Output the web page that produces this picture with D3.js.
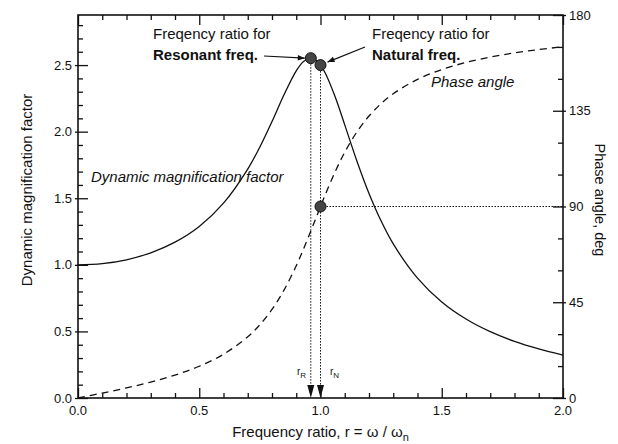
<!DOCTYPE html>
<html><head><meta charset="utf-8">
<script src="https://cdn.jsdelivr.net/npm/d3@7"></script>
<style>body{margin:0;background:#fff}text{font-family:"Liberation Sans",Arial,sans-serif;fill:#111}</style>
</head><body><svg id="c" width="618" height="444"></svg>
<script>
// Frequency ratio r
const ratio = [0,0.1,0.2,0.3,0.4,0.5,0.6,0.7,0.75,0.8,0.85,0.9,0.93,0.96,0.98,1.0,1.02,1.06,1.1,1.15,1.2,1.25,1.3,1.4,1.5,1.6,1.7,1.8,1.9,2.0];
// Dynamic magnification factor
const dmf = [1.0,1.009,1.038,1.090,1.170,1.288,1.463,1.719,1.885,2.076,2.279,2.457,2.527,2.552,2.538,2.5,2.439,2.264,2.051,1.780,1.536,1.329,1.157,0.900,0.721,0.593,0.498,0.425,0.368,0.322];
// Phase angle, deg
const phase = [0,2.31,4.76,7.51,10.78,14.93,20.56,28.77,34.44,41.63,50.79,62.18,70.04,78.46,84.23,90,95.65,106.25,115.52,125.03,132.51,138.37,143.0,149.74,154.36,157.69,160.21,162.18,163.77,165.07];
const xTicks = [0,0.5,1.0,1.5,2.0];
const yTicks = [0,0.5,1.0,1.5,2.0,2.5];
const pTicks = [0,45,90,135,180];
// Marked points: resonant, natural
const resonant = {r:0.96, dmf:2.552};
const natural = {r:1.0, dmf:2.5, phase:90};

const svg = d3.select("#c");
const L=78,R=563,T=15,B=398;
const x = d3.scaleLinear().domain([0,2]).range([L,R]);
const y = d3.scaleLinear().domain([0,2.876]).range([B,T]);
const yp = d3.scaleLinear().domain([0,180]).range([B,T]);
const TF = 13;

function fmt(v){return v.toFixed(1);}
// bottom axis
const gb = svg.append("g").attr("transform",`translate(0,${B})`);
gb.call(d3.axisBottom(x).tickValues(d3.range(0,2.001,0.1)).tickSize(-5).tickFormat(""));
gb.call(g=>g.selectAll(".tick line").filter(d=>xTicks.some(t=>Math.abs(t-d)<1e-6)).attr("y2",-10));
gb.selectAll("path").remove();
xTicks.forEach(t=>gb.append("text").attr("x",x(t)).attr("y",17).attr("text-anchor","middle").attr("font-size",TF).text(fmt(t)));
// top axis ticks
const gt = svg.append("g").attr("transform",`translate(0,${T})`);
gt.call(d3.axisTop(x).tickValues(d3.range(0,2.001,0.1)).tickSize(-5).tickFormat(""));
gt.call(g=>g.selectAll(".tick line").filter(d=>xTicks.some(t=>Math.abs(t-d)<1e-6)).attr("y2",10));
gt.selectAll("path").remove();
// left axis
const gl = svg.append("g").attr("transform",`translate(${L},0)`);
gl.call(d3.axisLeft(y).tickValues(d3.range(0,2.85,0.1)).tickSize(-5).tickFormat(""));
gl.call(g=>g.selectAll(".tick line").filter(d=>yTicks.some(t=>Math.abs(t-d)<1e-6)).attr("x1",-3).attr("x2",10));
gl.selectAll("path").remove();
yTicks.forEach(t=>gl.append("text").attr("x",-6).attr("y",y(t)+4.5).attr("text-anchor","end").attr("font-size",TF).text(fmt(t)));
// right axis
const gr = svg.append("g").attr("transform",`translate(${R},0)`);
gr.call(d3.axisRight(yp).tickValues(d3.range(0,181,15)).tickSize(-5).tickFormat(""));
gr.call(g=>g.selectAll(".tick line").filter(d=>d%45===0).attr("x1",3).attr("x2",-10));
gr.selectAll("path").remove();
pTicks.forEach(t=>gr.append("text").attr("x",6).attr("y",yp(t)+4.5).attr("text-anchor","start").attr("font-size",TF).text(t));
svg.selectAll(".tick line").attr("stroke","#111").attr("stroke-width",1.3);
// frame
svg.append("rect").attr("x",L).attr("y",T).attr("width",R-L).attr("height",B-T).attr("fill","none").attr("stroke","#111").attr("stroke-width",1.6);

// titles
svg.append("text").attr("x",(L+R)/2).attr("y",437).attr("text-anchor","middle").attr("font-size",15)
  .html('Frequency ratio, r = ω / ω<tspan font-size="11" dy="4">n</tspan>');
svg.append("text").attr("transform",`translate(32,190) rotate(-90)`).attr("text-anchor","middle").attr("font-size",15).text("Dynamic magnification factor");
svg.append("text").attr("transform",`translate(595,200) rotate(90)`).attr("text-anchor","middle").attr("font-size",14.5).text("Phase angle, deg");

// curves
const data = ratio.map((r,i)=>({r,d:dmf[i],p:phase[i]}));
svg.append("path").datum(data).attr("fill","none").attr("stroke","#111").attr("stroke-width",1.3)
  .attr("d",d3.line().x(d=>x(d.r)).y(d=>y(d.d)).curve(d3.curveCatmullRom));
svg.append("path").datum(data).attr("fill","none").attr("stroke","#111").attr("stroke-width",1.3).attr("stroke-dasharray","7,5")
  .attr("d",d3.line().x(d=>x(d.r)).y(d=>yp(d.p)).curve(d3.curveCatmullRom));

// dotted guides
const dot = {stroke:"#111","stroke-width":1,"stroke-dasharray":"1.5,1.5"};
function dl(x1,y1,x2,y2){const l=svg.append("line").attr("x1",x1).attr("y1",y1).attr("x2",x2).attr("y2",y2);Object.entries(dot).forEach(([k,v])=>l.attr(k,v));}
dl(x(resonant.r),y(resonant.dmf),x(resonant.r),B-10);
dl(x(natural.r),y(natural.dmf),x(natural.r),B-10);
dl(x(natural.r),yp(natural.phase),R,yp(natural.phase));
// arrowheads on axis
[resonant.r,natural.r].forEach(r=>{
  svg.append("path").attr("d",`M${x(r)-3.5},${B-13}L${x(r)+3.5},${B-13}L${x(r)},${B}Z`).attr("fill","#111");
});
// markers
[[x(resonant.r),y(resonant.dmf)],[x(natural.r),y(natural.dmf)],[x(natural.r),yp(natural.phase)]].forEach(([cx,cy])=>{
  svg.append("circle").attr("cx",cx).attr("cy",cy).attr("r",5.5).attr("fill","#444").attr("stroke","#111").attr("stroke-width",1);
});

// annotations
svg.append("defs").append("marker").attr("id","ah").attr("viewBox","0 0 10 10").attr("refX",10).attr("refY",5)
  .attr("markerWidth",9).attr("markerHeight",7).attr("orient","auto").attr("markerUnits","userSpaceOnUse")
  .append("path").attr("d","M0,1L10,5L0,9Z").attr("fill","#111");
svg.append("text").attr("x",153).attr("y",39).attr("font-size",15).text("Freqency ratio for");
svg.append("text").attr("x",153).attr("y",60).attr("font-size",15).attr("font-weight","bold").text("Resonant freq.");
svg.append("line").attr("x1",264).attr("y1",56).attr("x2",x(resonant.r)-6).attr("y2",y(resonant.dmf)).attr("stroke","#111").attr("stroke-width",1.2).attr("marker-end","url(#ah)");
svg.append("text").attr("x",372).attr("y",39).attr("font-size",15).text("Freqency ratio for");
svg.append("text").attr("x",372).attr("y",60).attr("font-size",15).attr("font-weight","bold").text("Natural freq.");
svg.append("line").attr("x1",365).attr("y1",47).attr("x2",x(natural.r)+7).attr("y2",y(natural.dmf)-3).attr("stroke","#111").attr("stroke-width",1.2).attr("marker-end","url(#ah)");
svg.append("text").attr("x",431).attr("y",87).attr("font-size",15).attr("font-style","italic").text("Phase angle");
svg.append("text").attr("x",91).attr("y",182).attr("font-size",15).attr("font-style","italic").text("Dynamic magnification factor");
svg.append("text").attr("x",297).attr("y",375).attr("font-size",10).html('r<tspan font-size="8" dy="3">R</tspan>');
svg.append("text").attr("x",330).attr("y",375).attr("font-size",10).html('r<tspan font-size="8" dy="3">N</tspan>');
</script></body></html>
